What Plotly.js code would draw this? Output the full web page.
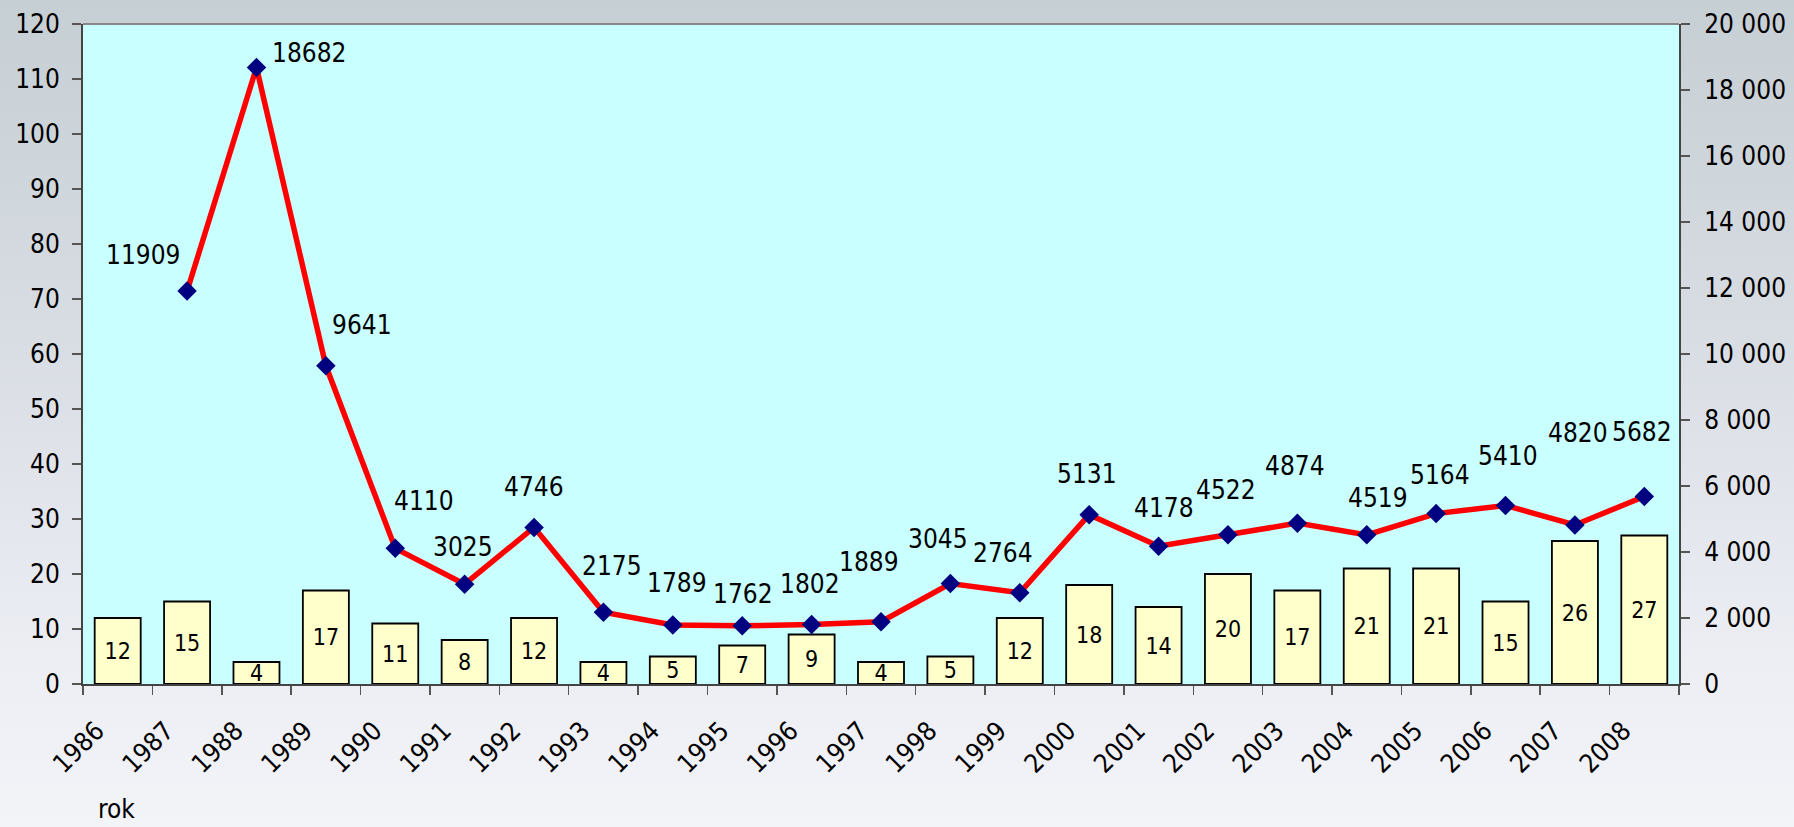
<!DOCTYPE html>
<html>
<head>
<meta charset="utf-8">
<script src="https://cdn.plot.ly/plotly-3.0.1.min.js"></script>
<style>
html, body { margin:0; padding:0; width:1794px; height:827px; overflow:hidden;
  background: linear-gradient(to bottom, #c6cfd4 0%, #d3d9de 30%, #e2e5ec 60%, #eceef4 80%, #f3f4f8 100%); }
#chart { width:1794px; height:827px; }
</style>
</head>
<body>
<div id="chart"></div>
<script>
// ---- data ----
const years = ["1986","1987","1988","1989","1990","1991","1992","1993","1994","1995","1996","1997",
               "1998","1999","2000","2001","2002","2003","2004","2005","2006","2007","2008"];
const barValues = [12,15,4,17,11,8,12,4,5,7,9,4,5,12,18,14,20,17,21,21,15,26,27];
const lineYears = ["1987","1988","1989","1990","1991","1992","1993","1994","1995","1996","1997",
                   "1998","1999","2000","2001","2002","2003","2004","2005","2006","2007","2008"];
const lineValues = [11909,18682,9641,4110,3025,4746,2175,1789,1762,1802,1889,
                    3045,2764,5131,4178,4522,4874,4519,5164,5410,4820,5682];
const leftTicks = [0,10,20,30,40,50,60,70,80,90,100,110,120];
const rightTicks = [0,2000,4000,6000,8000,10000,12000,14000,16000,18000,20000];
const xTitle = "rok";

// ---- label placement (pixel offsets from each marker, styling only) ----
const labelShiftX = [-44,53,36,29,-2,0,9,4,1,-2,-12,-12,-17,-2,5,-2,-2,11,4,2,3,-2];
const labelShiftY = [36,14,41,47,37,40,46,42,32,41,60,45,40,41,38,45,57,37,39,49,92,64];

const FONT = "'DejaVu Sans Condensed', 'DejaVu Sans', Verdana, sans-serif";
const AX = '#444', TK = '#555';

const bars = {
  type: 'bar', x: years, y: barValues, xaxis: 'x', yaxis: 'y',
  marker: { color: '#FFFFCC', line: { color: '#000000', width: 1.8 } },
  text: barValues.map(String), textposition: 'inside', insidetextanchor: 'middle',
  textangle: 0, constraintext: 'none', cliponaxis: false,
  textfont: { family: FONT, size: 23, color: '#000' },
  hoverinfo: 'x+y', showlegend: false
};
const line = {
  type: 'scatter', mode: 'lines+markers', x: lineYears, y: lineValues,
  xaxis: 'x', yaxis: 'y2',
  line: { color: '#FF0000', width: 5.5 },
  marker: { symbol: 'diamond', size: 15, color: '#000080' },
  cliponaxis: false, showlegend: false
};

const annotations = lineYears.map((yr, i) => ({
  x: years.indexOf(yr), y: lineValues[i], xref: 'x', yref: 'y2', text: String(lineValues[i]),
  showarrow: false, xanchor: 'center', yanchor: 'middle',
  xshift: labelShiftX[i], yshift: labelShiftY[i],
  font: { family: FONT, size: 26, color: '#000' }
}));
annotations.push({
  x: 0.0207, y: -0.19, xref: 'paper', yref: 'paper', text: xTitle, showarrow: false,
  xanchor: 'center', yanchor: 'middle', font: { family: FONT, size: 26, color: '#000' }
});

const boundaries = years.map((y, i) => i - 0.5).concat([years.length - 0.5]);

const layout = {
  width: 1794, height: 827,
  margin: { l: 83, r: 115, t: 24, b: 143, pad: 0 },
  paper_bgcolor: 'rgba(0,0,0,0)', plot_bgcolor: '#C9FFFF',
  separators: ', ',
  font: { family: FONT, size: 26, color: '#000' },
  bargap: 0.337,
  showlegend: false,
  xaxis: {
    type: 'category', categoryorder: 'array', categoryarray: years,
    range: [-0.5, years.length - 0.5], tickson: 'boundaries',
    ticks: 'outside', ticklen: 9, tickwidth: 1.5, tickcolor: TK,
    tickangle: -45, tickfont: { family: FONT, size: 26, color: '#000' },
    ticklabelstandoff: 19, ticklabelshift: -21,
    showline: true, linecolor: AX, linewidth: 2, mirror: false,
    showgrid: false, zeroline: false, fixedrange: true
  },
  xaxis2: {
    overlaying: 'x', anchor: 'y', type: 'linear', range: [-0.5, years.length - 0.5],
    tickmode: 'array', tickvals: boundaries, ticks: 'inside', ticklen: 9, tickwidth: 1.5,
    tickcolor: TK, showticklabels: false, showline: false, showgrid: false, zeroline: false
  },
  yaxis: {
    range: [0, 120], tickmode: 'array', tickvals: leftTicks,
    ticks: 'outside', ticklen: 9, tickwidth: 1.5, tickcolor: TK,
    tickfont: { family: FONT, size: 26, color: '#000' }, ticklabelstandoff: 7,
    showline: true, linecolor: AX, linewidth: 2, showgrid: false, zeroline: false
  },
  yaxis2: {
    overlaying: 'y', side: 'right', anchor: 'x', range: [0, 20000],
    tickmode: 'array', tickvals: rightTicks, tickformat: ',d',
    ticks: 'outside', ticklen: 9, tickwidth: 1.5, tickcolor: TK,
    tickfont: { family: FONT, size: 26, color: '#000' }, ticklabelstandoff: 9,
    showline: true, linecolor: AX, linewidth: 2, showgrid: false, zeroline: false
  },
  yaxis3: {
    overlaying: 'y', side: 'left', anchor: 'x', range: [0, 120],
    tickmode: 'array', tickvals: leftTicks, ticks: 'inside', ticklen: 9, tickwidth: 1.5,
    tickcolor: TK, showticklabels: false, showline: false, showgrid: false, zeroline: false
  },
  yaxis4: {
    overlaying: 'y', side: 'right', anchor: 'x', range: [0, 20000],
    tickmode: 'array', tickvals: rightTicks, ticks: 'inside', ticklen: 9, tickwidth: 1.5,
    tickcolor: TK, showticklabels: false, showline: false, showgrid: false, zeroline: false
  },
  shapes: [{
    type: 'line', xref: 'paper', yref: 'paper', x0: 0, x1: 1, y0: 1, y1: 1,
    line: { color: '#888', width: 2 }
  }],
  annotations: annotations
};

Plotly.newPlot('chart', [bars, line], layout, { staticPlot: true, displayModeBar: false });
</script>
</body>
</html>
